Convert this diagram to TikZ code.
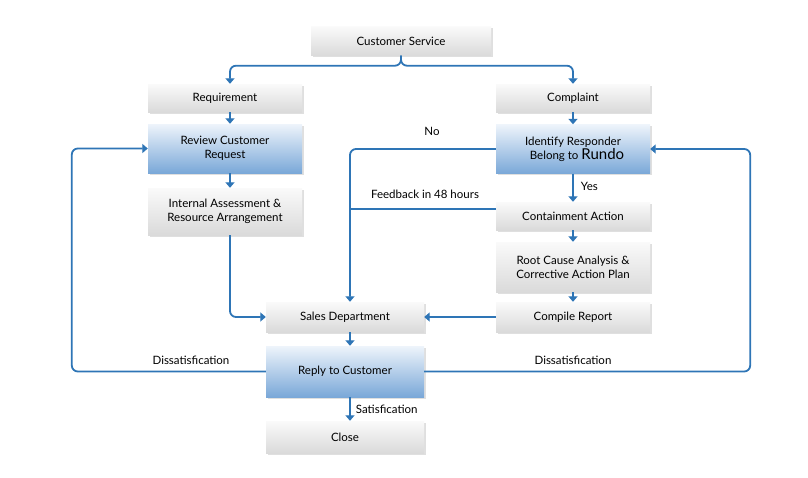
\documentclass[tikz,border=0pt]{standalone}
\usepackage{fontspec}
\setmainfont{Lato}
\usepackage{tikz}
\usetikzlibrary{
	arrows.meta,
	positioning,
	shadows
}
\definecolor{flowblue}{RGB}{46,117,182}
\definecolor{boxtop}{RGB}{250,250,250}
\definecolor{boxbot}{RGB}{218,218,218}
\definecolor{bluetop}{RGB}{238,244,251}
\definecolor{bluebot}{RGB}{122,168,216}

\begin{document}
\begin{tikzpicture}[
    x=1pt, y=-1pt,
    gray_box/.style={
        rectangle,
        top color=boxtop,
        bottom color=boxbot,
        draw=none,
        drop shadow={opacity=0.25, shadow xshift=1.5pt, shadow yshift=-1.5pt},
        minimum width=154pt,
        minimum height=28pt,
        inner sep=2pt,
        font=\fontsize{11.5}{14}\selectfont,
        align=center
    },
    blue_box/.style={
        gray_box,
        top color=bluetop,
        bottom color=bluebot,
        minimum height=49pt
    },
    edge_label/.style={
        font=\fontsize{11.5}{14}\selectfont,
        inner sep=1pt
    },
    flow_edge/.style={
        -{Triangle[width=9pt,length=5.5pt]},
        line width=1.8pt,
        draw=flowblue,
        rounded corners=6pt
    },
    flow_line/.style={
        line width=1.8pt,
        draw=flowblue,
        rounded corners=6pt
    }
]
    \useasboundingbox (0,0) rectangle (808,477);

    % ====== top: customer service and its two branches ======
    \node[gray_box, minimum width=180pt, minimum height=29pt] (cust_service) at (401, 41) {Customer Service};
    \node[gray_box] (requirement) at (225, 98) {Requirement};
    \node[gray_box] (complaint) at (573, 98) {Complaint};

    % ====== left column: requirement ======
    \node[blue_box] (review) at (225, 148.5) {Review Customer\\Request};
    \node[gray_box, minimum height=47pt] (internal) at (225, 211.5) {Internal Assessment \&\\Resource Arrangement};

    % ====== right column: complaint ======
    \node[blue_box] (identify) at (573, 149) {Identify Responder\\\hspace*{8pt}Belong to {\fontsize{15}{15}\selectfont Rundo}};
    \node[gray_box] (containment) at (573, 216) {Containment Action};
    \node[gray_box, minimum height=50pt] (root_cause) at (573, 267) {Root Cause Analysis \&\\Corrective Action Plan};
    \node[gray_box, minimum height=30pt] (compile) at (573, 317) {Compile Report};

    % ====== centre column: sales and reply ======
    \node[gray_box, minimum width=158pt, minimum height=30pt] (sales) at (345, 317) {Sales Department};
    \node[blue_box, minimum width=158pt, minimum height=51pt] (reply) at (345, 371.5) {Reply to Customer};
    \node[gray_box, minimum width=158pt, minimum height=32pt] (close) at (345, 437) {Close};

    % branches from customer service
    \draw[flow_edge] (cust_service.south) -- ++(0,10) -| ([xshift=5pt]requirement.north);
    \draw[flow_edge] (cust_service.south) -- ++(0,10) -| (complaint.north);

    % left column edges
    \draw[flow_edge] ([xshift=5pt]requirement.south) -- ([xshift=5pt]review.north);
    \draw[flow_edge] ([xshift=5pt]review.south) -- ([xshift=5pt]internal.north);
    \draw[flow_edge] ([xshift=5pt]internal.south) |- (sales.west);

    % right column edges
    \draw[flow_edge] (complaint.south) -- (identify.north);
    \draw[flow_edge] (identify.south) -- node[edge_label, right=6pt, pos=0.45] {Yes} (containment.north);
    \draw[flow_edge] (containment.south) -- (root_cause.north);
    \draw[flow_edge] (root_cause.south) -- (compile.north);
    \draw[flow_edge] (compile.west) -- (sales.east);

    % No / feedback to sales
    \draw[flow_edge] (identify.west) -| ([xshift=5pt]sales.north);
    \node[edge_label] (no_label) at (432, 131) {No};
    \coordinate (fb_join) at ([xshift=5pt]sales.north);
    \coordinate (fb_start) at ([yshift=7pt]containment.west);
    \draw[flow_line] (fb_start) -- (fb_join |- fb_start);
    \node[edge_label] (fb_label) at (425, 194) {Feedback in 48 hours};

    % reply edges
    \draw[flow_edge] ([xshift=5pt]sales.south) -- ([xshift=5pt]reply.north);
    \draw[flow_edge] ([xshift=5pt]reply.south) -- node[edge_label, right=4pt, pos=0.5] {Satisfication} ([xshift=5pt]close.north);
    \draw[flow_edge] (reply.west) -| ([xshift=-76pt]review.west) -- (review.west);
    \draw[flow_edge] (reply.east) -| ([xshift=100pt]identify.east) -- (identify.east);
    \node[edge_label] (dis_left) at (191, 360) {Dissatisfication};
    \node[edge_label] (dis_right) at (573, 360) {Dissatisfication};

\end{tikzpicture}
\end{document}
